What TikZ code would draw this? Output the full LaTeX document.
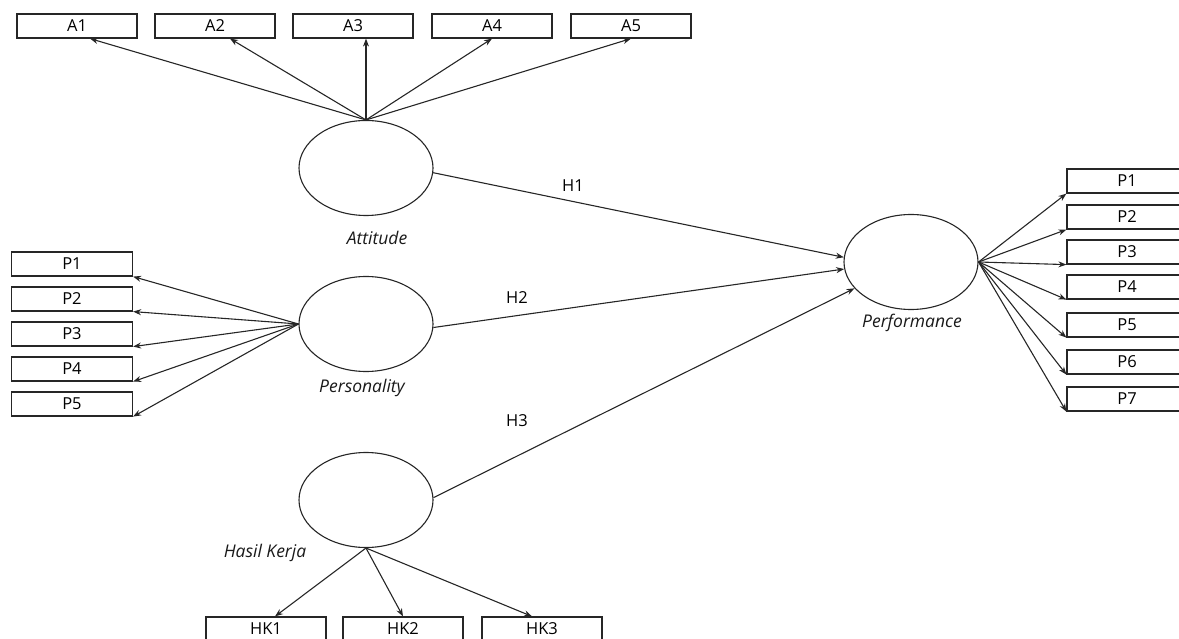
\documentclass[tikz,border=0pt]{standalone}
\usepackage{fontspec}
\setmainfont{Open Sans}
\usetikzlibrary{arrows.meta,positioning,shapes.geometric}

\begin{document}
\begin{tikzpicture}[
  x=1pt, y=-1pt,
  ind/.style={draw=black!85, line width=1.2pt, minimum width=120pt, minimum height=24pt, inner sep=0pt, font=\fontsize{16.5}{16.5}\selectfont},
  lat/.style={draw=black!85, line width=1.1pt, ellipse, minimum width=134pt, minimum height=95pt, inner sep=0pt},
  lbl/.style={font=\fontsize{17.5}{17.5}\selectfont\itshape, text=black!90},
  hyp/.style={font=\fontsize{16.5}{16.5}\selectfont},
  arr/.style={-{Stealth[length=8pt,width=6pt]}, line width=1.1pt, draw=black!85}
]
\useasboundingbox (0,0) rectangle (1179,639);

% latent variables
\node[lat] (att) at (366,168) {};
\node[lat] (pers) at (366,324) {};
\node[lat] (hk) at (366,500) {};
\node[lat] (perf) at (911,262) {};
\node[lbl] (attlbl) at (377,238) {Attitude};
\node[lbl] (perslbl) at (362,388) {Personality};
\node[lbl] (hklbl) at (265,553) {Hasil Kerja};
\node[lbl] (perflbl) at (912,323) {Performance};

% indicators of Attitude
\node[ind] (a1) at (77,26) {A1};
\node[ind] (a2) at (215,26) {A2};
\node[ind] (a3) at (353,26) {A3};
\node[ind] (a4) at (492,26) {A4};
\node[ind] (a5) at (631,26) {A5};

% indicators of Personality
\node[ind, minimum width=121pt] (pl1) at (72,264) {P1};
\node[ind, minimum width=121pt] (pl2) at (72,299) {P2};
\node[ind, minimum width=121pt] (pl3) at (72,334) {P3};
\node[ind, minimum width=121pt] (pl4) at (72,369) {P4};
\node[ind, minimum width=121pt] (pl5) at (72,404) {P5};

% indicators of Performance
\node[ind] (pr1) at (1127,181) {P1};
\node[ind] (pr2) at (1127,217) {P2};
\node[ind] (pr3) at (1127,252) {P3};
\node[ind] (pr4) at (1127,287) {P4};
\node[ind] (pr5) at (1127,325) {P5};
\node[ind] (pr6) at (1127,362) {P6};
\node[ind] (pr7) at (1127,399) {P7};

% indicators of Hasil Kerja
\node[ind] (hk1) at (266,629) {HK1};
\node[ind] (hk2) at (403,629) {HK2};
\node[ind] (hk3) at (542,629) {HK3};

% loadings
\draw[arr] (att.north) -- ([xshift=13pt]a1.south);
\draw[arr] (att.north) -- ([xshift=15pt]a2.south);
\draw[arr] (att.north) -- ([xshift=13pt]a3.south);
\draw[arr] (att.north) -- (a4.south);
\draw[arr] (att.north) -- (a5.south);

\draw[arr] (pers.west) -- (pl1.south east);
\draw[arr] (pers.west) -- (pl2.south east);
\draw[arr] (pers.west) -- (pl3.south east);
\draw[arr] (pers.west) -- (pl4.south east);
\draw[arr] (pers.west) -- (pl5.south east);

\draw[arr] (perf.east) -- (pr1.south west);
\draw[arr] (perf.east) -- (pr2.south west);
\draw[arr] (perf.east) -- (pr3.south west);
\draw[arr] (perf.east) -- (pr4.south west);
\draw[arr] (perf.east) -- (pr5.south west);
\draw[arr] (perf.east) -- (pr6.south west);
\draw[arr] (perf.east) -- (pr7.south west);

\draw[arr] (hk.south) -- ([xshift=9pt]hk1.north);
\draw[arr] (hk.south) -- (hk2.north);
\draw[arr] (hk.south) -- ([xshift=-10pt]hk3.north);

% hypotheses
\draw[arr] (att.-4) -- (perf.176);
\draw[arr] (pers.-3) -- (perf.186);
\draw[arr] (hk.2) -- (perf.205);
\node[hyp] (h1) at (573,186) {H1};
\node[hyp] (h2) at (517,298) {H2};
\node[hyp] (h3) at (517,421) {H3};
\end{tikzpicture}
\end{document}
